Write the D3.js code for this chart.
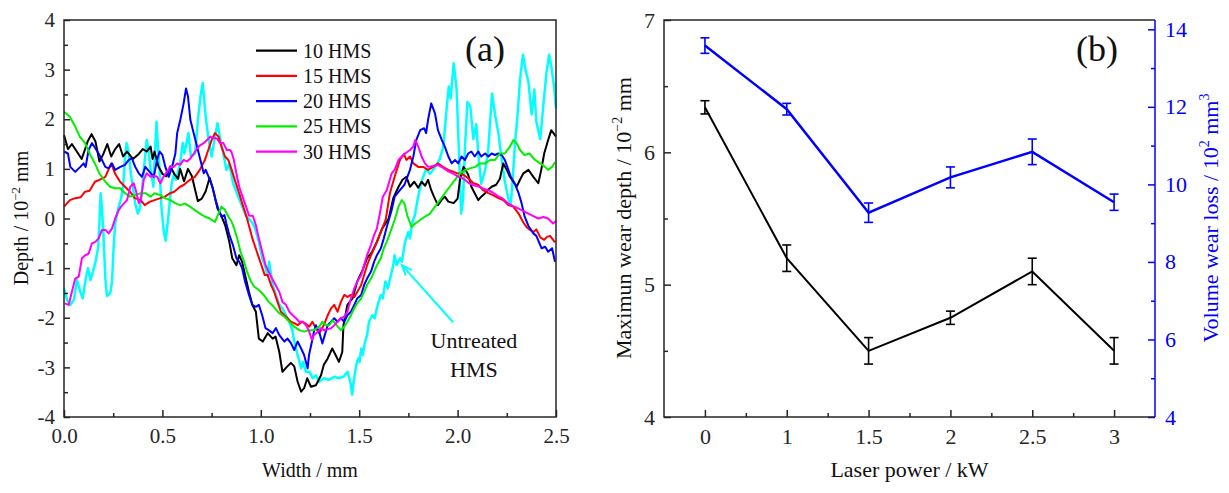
<!DOCTYPE html>
<html><head><meta charset="utf-8">
<script src="https://cdn.jsdelivr.net/npm/d3@7"></script>
<style>
body{margin:0;background:#fff;}
svg text{font-family:"Liberation Serif","Times New Roman",serif;}
</style></head><body>
<svg id="c" width="1229" height="493"></svg>
<script>
// ---------- Panel (a) data : [width mm, depth 10^-2 mm] ----------
const seriesNames = ["10 HMS","15 HMS","20 HMS","25 HMS","30 HMS"];
const seriesColors = ["#000000","#ff0000","#0000ff","#00f000","#ff00ff"];
const untreatedColor = "#00ffff";

const hms10 = [[0,1.68],[0.02,1.40],[0.04,1.50],[0.06,1.38],[0.09,1.20],[0.12,1.55],[0.14,1.70],[0.16,1.55],[0.18,1.15],[0.20,1.30],[0.22,1.50],[0.24,1.25],[0.26,1.40],[0.28,1.50],[0.30,1.25],[0.32,1.35],[0.35,1.20],[0.38,1.30],[0.40,1.40],[0.42,1.35],[0.44,1.45],[0.45,1.20],[0.46,1.35],[0.48,1.05],[0.50,0.90],[0.52,0.85],[0.54,1.05],[0.56,0.90],[0.58,0.80],[0.59,1.00],[0.61,0.75],[0.63,1.00],[0.65,0.85],[0.665,0.60],[0.68,0.35],[0.70,0.40],[0.72,0.55],[0.74,0.82],[0.76,0.55],[0.78,0.20],[0.80,0.05],[0.82,-0.15],[0.84,-0.47],[0.855,-0.80],[0.876,-0.94],[0.89,-0.74],[0.905,-0.87],[0.92,-1.14],[0.94,-1.48],[0.957,-1.74],[0.975,-1.88],[0.99,-2.42],[1.01,-2.48],[1.035,-2.31],[1.06,-2.42],[1.075,-2.38],[1.094,-2.69],[1.11,-3.09],[1.13,-3.00],[1.153,-2.91],[1.17,-2.98],[1.187,-3.29],[1.205,-3.49],[1.22,-3.42],[1.236,-3.22],[1.255,-3.39],[1.28,-3.36],[1.306,-3.16],[1.32,-2.95],[1.34,-2.82],[1.363,-2.62],[1.38,-2.75],[1.397,-2.89],[1.414,-2.69],[1.42,-2.15],[1.44,-1.74],[1.466,-1.61],[1.49,-1.27],[1.517,-1.04],[1.54,-0.80],[1.566,-0.67],[1.59,-0.47],[1.617,-0.20],[1.65,0.00],[1.673,0.41],[1.70,0.64],[1.72,0.78],[1.74,0.84],[1.758,0.64],[1.78,0.74],[1.80,0.62],[1.817,0.74],[1.835,0.66],[1.85,0.78],[1.866,0.57],[1.88,0.44],[1.90,0.27],[1.92,0.38],[1.935,0.44],[1.953,0.34],[1.98,0.31],[2.00,0.40],[2.012,0.78],[2.03,1.04],[2.04,0.98],[2.054,0.88],[2.07,0.64],[2.087,0.51],[2.105,0.37],[2.12,0.44],[2.14,0.51],[2.155,0.58],[2.173,0.64],[2.196,0.68],[2.215,0.80],[2.232,1.11],[2.25,0.98],[2.266,0.84],[2.283,0.74],[2.30,0.64],[2.317,0.78],[2.334,0.91],[2.36,0.98],[2.385,0.84],[2.41,0.71],[2.425,0.98],[2.44,1.31],[2.46,1.58],[2.476,1.78],[2.50,1.65]];

const hms15 = [[0,0.24],[0.03,0.37],[0.057,0.41],[0.085,0.43],[0.107,0.54],[0.13,0.56],[0.157,0.74],[0.18,0.78],[0.21,0.84],[0.24,1.11],[0.26,0.90],[0.285,0.74],[0.31,0.64],[0.335,0.54],[0.36,0.41],[0.39,0.37],[0.41,0.27],[0.437,0.34],[0.46,0.37],[0.49,0.41],[0.513,0.44],[0.54,0.51],[0.56,0.54],[0.59,0.64],[0.61,0.68],[0.64,0.78],[0.665,0.84],[0.69,0.98],[0.716,1.18],[0.733,1.38],[0.75,1.58],[0.767,1.72],[0.785,1.65],[0.80,1.45],[0.818,1.25],[0.835,1.18],[0.852,0.98],[0.87,0.75],[0.89,0.51],[0.91,0.25],[0.93,0.00],[0.957,-0.40],[0.98,-0.67],[1.003,-0.94],[1.02,-1.14],[1.035,-1.14],[1.052,-1.34],[1.068,-1.48],[1.085,-1.68],[1.102,-1.88],[1.12,-1.95],[1.136,-2.01],[1.153,-2.08],[1.17,-2.11],[1.187,-2.15],[1.21,-2.08],[1.228,-2.12],[1.246,-2.18],[1.262,-2.08],[1.28,-2.21],[1.297,-2.31],[1.32,-2.15],[1.34,-1.95],[1.357,-1.81],[1.373,-1.74],[1.39,-1.88],[1.407,-1.68],[1.424,-1.54],[1.44,-1.58],[1.458,-1.54],[1.475,-1.58],[1.49,-1.48],[1.51,-1.34],[1.525,-1.14],[1.54,-0.94],[1.56,-0.74],[1.576,-0.60],[1.59,-0.47],[1.61,-0.27],[1.635,-0.02],[1.656,0.51],[1.68,0.84],[1.707,1.18],[1.727,1.30],[1.74,1.18],[1.758,1.25],[1.775,1.11],[1.80,1.04],[1.825,1.04],[1.85,0.98],[1.876,1.04],[1.90,1.11],[1.925,1.04],[1.953,0.98],[1.98,0.94],[2.00,0.91],[2.03,0.88],[2.054,0.81],[2.08,0.71],[2.105,0.68],[2.13,0.57],[2.156,0.51],[2.18,0.47],[2.207,0.41],[2.232,0.37],[2.258,0.27],[2.283,0.24],[2.31,0.10],[2.334,-0.08],[2.35,-0.17],[2.368,-0.23],[2.385,-0.27],[2.40,-0.22],[2.42,-0.38],[2.44,-0.43],[2.455,-0.37],[2.47,-0.35],[2.495,-0.48]];

const hms20 = [[0,1.35],[0.02,1.31],[0.032,1.04],[0.057,0.94],[0.083,1.04],[0.10,1.11],[0.11,1.04],[0.125,1.38],[0.142,1.52],[0.16,1.41],[0.176,1.31],[0.193,1.18],[0.21,1.04],[0.227,1.01],[0.244,1.11],[0.26,0.98],[0.286,1.04],[0.31,1.08],[0.329,1.18],[0.345,1.21],[0.362,1.04],[0.38,0.91],[0.396,0.84],[0.413,1.04],[0.435,0.94],[0.456,0.84],[0.473,1.18],[0.486,1.35],[0.50,1.28],[0.515,1.04],[0.532,0.84],[0.549,1.04],[0.566,1.31],[0.575,1.72],[0.591,1.99],[0.608,2.32],[0.62,2.62],[0.63,2.46],[0.642,1.99],[0.659,1.72],[0.676,1.45],[0.693,1.18],[0.71,0.91],[0.72,0.98],[0.735,0.84],[0.754,0.64],[0.77,0.37],[0.786,0.17],[0.80,0.04],[0.815,0.07],[0.825,-0.10],[0.84,-0.33],[0.858,-0.53],[0.876,-0.80],[0.89,-0.87],[0.905,-1.00],[0.92,-1.27],[0.94,-1.54],[0.957,-1.74],[0.975,-1.78],[0.99,-1.74],[1.007,-1.95],[1.024,-2.21],[1.04,-2.25],[1.06,-2.31],[1.077,-2.21],[1.094,-2.35],[1.12,-2.48],[1.136,-2.42],[1.153,-2.51],[1.17,-2.65],[1.187,-2.48],[1.205,-2.62],[1.22,-2.75],[1.238,-3.02],[1.245,-2.75],[1.26,-2.48],[1.27,-2.28],[1.28,-2.15],[1.296,-2.28],[1.313,-2.52],[1.325,-2.35],[1.34,-2.15],[1.357,-2.08],[1.373,-2.01],[1.39,-2.08],[1.407,-2.01],[1.424,-2.08],[1.44,-1.95],[1.458,-1.88],[1.475,-1.74],[1.49,-1.61],[1.51,-1.54],[1.525,-1.34],[1.54,-1.21],[1.56,-1.07],[1.576,-0.87],[1.59,-0.74],[1.61,-0.60],[1.625,-0.40],[1.64,-0.17],[1.665,0.17],[1.68,0.44],[1.707,0.57],[1.73,0.68],[1.758,0.98],[1.775,1.25],[1.79,1.58],[1.81,1.78],[1.83,1.82],[1.84,1.72],[1.85,1.99],[1.866,2.32],[1.885,2.12],[1.90,1.78],[1.92,1.58],[1.935,1.45],[1.953,1.25],[1.97,1.11],[1.987,1.18],[2.003,1.11],[2.02,1.25],[2.037,1.18],[2.054,1.31],[2.07,1.35],[2.087,1.25],[2.105,1.35],[2.12,1.25],[2.14,1.31],[2.156,1.25],[2.173,1.31],[2.19,1.28],[2.207,1.31],[2.224,1.28],[2.24,1.18],[2.258,0.98],[2.27,0.84],[2.29,0.71],[2.31,0.51],[2.325,0.31],[2.34,0.05],[2.36,-0.15],[2.385,-0.30],[2.40,-0.35],[2.427,-0.60],[2.445,-0.57],[2.46,-0.67],[2.48,-0.60],[2.495,-0.87]];

const hms25 = [[0,2.15],[0.03,2.05],[0.057,1.85],[0.08,1.65],[0.107,1.52],[0.13,1.31],[0.157,1.11],[0.18,0.91],[0.21,0.74],[0.234,0.64],[0.26,0.61],[0.285,0.61],[0.31,0.51],[0.335,0.44],[0.36,0.47],[0.39,0.51],[0.415,0.51],[0.44,0.44],[0.46,0.51],[0.49,0.47],[0.513,0.41],[0.54,0.37],[0.564,0.31],[0.59,0.27],[0.615,0.30],[0.64,0.24],[0.665,0.17],[0.69,0.10],[0.715,0.04],[0.74,0.00],[0.767,-0.07],[0.785,0.10],[0.80,0.24],[0.818,0.17],[0.835,0.04],[0.85,-0.05],[0.865,-0.20],[0.88,-0.40],[0.897,-0.67],[0.915,-0.87],[0.93,-1.07],[0.95,-1.27],[0.966,-1.37],[0.99,-1.44],[1.015,-1.54],[1.04,-1.68],[1.066,-1.78],[1.094,-1.91],[1.12,-1.98],[1.145,-2.08],[1.17,-2.18],[1.195,-2.25],[1.22,-2.28],[1.245,-2.25],[1.27,-2.25],[1.297,-2.18],[1.313,-2.08],[1.33,-2.15],[1.348,-2.15],[1.365,-2.05],[1.385,-2.15],[1.407,-2.25],[1.424,-2.18],[1.44,-2.08],[1.458,-1.95],[1.475,-1.81],[1.49,-1.71],[1.51,-1.61],[1.525,-1.48],[1.54,-1.34],[1.56,-1.21],[1.576,-1.07],[1.59,-0.94],[1.61,-0.80],[1.625,-0.60],[1.64,-0.47],[1.656,-0.30],[1.68,-0.03],[1.70,0.24],[1.716,0.37],[1.73,0.30],[1.745,0.05],[1.766,-0.17],[1.785,-0.10],[1.81,-0.03],[1.834,0.04],[1.86,0.10],[1.885,0.24],[1.91,0.37],[1.936,0.51],[1.96,0.64],[1.987,0.78],[2.012,0.91],[2.04,0.98],[2.063,1.01],[2.09,1.04],[2.114,1.11],[2.14,1.11],[2.165,1.18],[2.19,1.18],[2.215,1.31],[2.24,1.31],[2.266,1.45],[2.283,1.58],[2.30,1.52],[2.317,1.38],[2.34,1.28],[2.365,1.31],[2.393,1.18],[2.42,1.11],[2.444,1.04],[2.46,0.98],[2.48,1.04],[2.495,1.14]];

const hms30 = [[0.003,-1.71],[0.024,-1.74],[0.04,-1.48],[0.057,-1.21],[0.075,-1.17],[0.091,-0.80],[0.108,-0.74],[0.125,-0.71],[0.142,-0.50],[0.16,-0.47],[0.176,-0.40],[0.193,-0.23],[0.21,-0.23],[0.227,-0.30],[0.244,-0.20],[0.26,0.00],[0.278,0.17],[0.29,0.24],[0.32,0.37],[0.337,0.64],[0.354,0.71],[0.365,0.57],[0.38,0.31],[0.39,0.37],[0.405,0.78],[0.42,0.91],[0.44,0.84],[0.456,0.86],[0.473,0.84],[0.49,0.71],[0.505,0.84],[0.523,0.94],[0.54,1.04],[0.558,1.04],[0.575,1.11],[0.59,1.08],[0.608,1.18],[0.625,1.15],[0.642,1.21],[0.66,1.31],[0.676,1.41],[0.693,1.48],[0.71,1.52],[0.727,1.58],[0.743,1.65],[0.76,1.62],[0.777,1.61],[0.793,1.52],[0.81,1.52],[0.827,1.38],[0.843,1.38],[0.85,1.35],[0.862,1.20],[0.874,0.95],[0.89,0.64],[0.907,0.44],[0.925,0.24],[0.94,0.06],[0.96,0.05],[0.975,-0.13],[0.99,-0.40],[1.007,-0.67],[1.024,-0.94],[1.04,-1.07],[1.057,-1.21],[1.075,-1.34],[1.094,-1.48],[1.11,-1.68],[1.128,-1.74],[1.145,-1.88],[1.162,-1.95],[1.179,-2.01],[1.195,-2.08],[1.212,-2.08],[1.23,-2.15],[1.246,-2.28],[1.26,-2.45],[1.27,-2.35],[1.29,-2.28],[1.305,-2.21],[1.32,-2.25],[1.34,-2.23],[1.357,-2.21],[1.373,-2.15],[1.39,-2.08],[1.407,-2.01],[1.424,-1.98],[1.44,-1.88],[1.458,-1.61],[1.475,-1.41],[1.49,-1.27],[1.51,-1.14],[1.525,-0.94],[1.54,-0.74],[1.56,-0.53],[1.576,-0.33],[1.59,-0.20],[1.605,0.10],[1.62,0.44],[1.64,0.57],[1.665,0.91],[1.68,0.98],[1.70,1.18],[1.716,1.25],[1.733,1.31],[1.758,1.38],[1.775,1.45],[1.785,1.58],[1.80,1.45],[1.817,1.25],[1.834,1.11],[1.85,1.04],[1.877,1.06],[1.90,1.08],[1.927,1.02],[1.953,0.95],[1.98,0.90],[2.005,0.84],[2.03,0.80],[2.055,0.72],[2.08,0.67],[2.105,0.65],[2.13,0.60],[2.156,0.57],[2.18,0.52],[2.205,0.45],[2.23,0.40],[2.258,0.30],[2.283,0.25],[2.31,0.20],[2.335,0.15],[2.36,0.10],[2.385,0.05],[2.41,0.00],[2.436,0.03],[2.46,0.00],[2.485,-0.10],[2.50,-0.05]];

const untreated = [[0.000,-1.41],[0.015,-1.64],[0.032,-1.74],[0.050,-1.64],[0.066,-1.24],[0.083,-1.48],[0.095,-1.61],[0.108,-1.27],[0.122,-1.00],[0.134,-1.24],[0.147,-1.07],[0.160,-0.87],[0.173,-0.60],[0.180,-0.10],[0.186,0.51],[0.193,0.20],[0.200,-0.30],[0.210,-1.20],[0.218,-1.56],[0.235,-1.51],[0.244,-1.27],[0.252,-0.60],[0.260,-0.10],[0.275,0.20],[0.290,0.40],[0.300,0.64],[0.310,1.20],[0.318,1.52],[0.328,1.35],[0.340,0.90],[0.350,0.64],[0.362,0.30],[0.375,0.10],[0.385,0.20],[0.395,0.50],[0.405,0.95],[0.420,1.58],[0.430,1.38],[0.440,1.00],[0.454,0.64],[0.462,1.30],[0.470,1.95],[0.478,1.40],[0.485,1.04],[0.495,0.24],[0.508,-0.30],[0.517,-0.45],[0.530,0.04],[0.547,0.71],[0.560,0.91],[0.570,0.78],[0.590,1.11],[0.603,1.52],[0.612,1.31],[0.632,1.72],[0.645,1.25],[0.666,1.31],[0.682,2.05],[0.695,2.50],[0.705,2.73],[0.720,2.05],[0.735,1.58],[0.750,1.25],[0.767,1.65],[0.780,1.92],[0.795,1.58],[0.810,1.31],[0.825,0.98],[0.840,1.10],[0.860,0.70],[0.875,0.55],[0.894,0.35],[0.910,0.20],[0.925,0.05],[0.945,-0.03],[0.960,-0.10],[0.975,-0.25],[0.990,-0.47],[1.007,-0.80],[1.020,-0.94],[1.035,-1.17],[1.042,-0.87],[1.050,-1.07],[1.060,-1.34],[1.077,-1.54],[1.094,-1.74],[1.110,-1.81],[1.128,-1.95],[1.145,-2.08],[1.162,-2.28],[1.170,-2.48],[1.187,-2.75],[1.205,-3.02],[1.215,-2.89],[1.230,-3.09],[1.248,-3.09],[1.264,-3.22],[1.280,-3.16],[1.297,-3.29],[1.320,-3.22],[1.345,-3.25],[1.373,-3.19],[1.395,-3.22],[1.420,-3.19],[1.440,-3.09],[1.455,-3.29],[1.464,-3.55],[1.472,-3.29],[1.485,-2.95],[1.495,-2.82],[1.502,-2.89],[1.510,-2.62],[1.518,-2.75],[1.530,-2.48],[1.540,-2.35],[1.550,-2.08],[1.566,-1.95],[1.578,-2.01],[1.594,-1.74],[1.610,-1.54],[1.620,-1.61],[1.633,-1.27],[1.645,-1.41],[1.657,-1.21],[1.673,-0.94],[1.680,-0.74],[1.690,-0.94],[1.707,-0.80],[1.717,-0.87],[1.733,-0.47],[1.750,-0.27],[1.758,-0.40],[1.770,-0.07],[1.783,0.07],[1.800,0.45],[1.817,0.75],[1.840,1.00],[1.860,0.90],[1.894,1.08],[1.910,1.20],[1.927,1.45],[1.944,2.20],[1.955,2.66],[1.965,2.42],[1.980,3.13],[1.995,2.60],[2.008,1.20],[2.018,0.10],[2.028,0.40],[2.037,1.40],[2.050,2.35],[2.065,2.25],[2.080,1.60],[2.095,1.90],[2.105,1.30],[2.120,0.70],[2.140,0.98],[2.156,1.40],[2.175,2.52],[2.190,2.10],[2.207,1.72],[2.224,1.20],[2.240,0.75],[2.258,0.40],[2.270,0.28],[2.280,0.80],[2.292,1.55],[2.305,2.10],[2.317,2.80],[2.332,3.30],[2.345,3.00],[2.360,2.75],[2.376,2.10],[2.390,2.60],[2.400,1.95],[2.420,1.60],[2.436,2.30],[2.452,2.95],[2.465,3.30],[2.477,3.05],[2.490,2.66],[2.500,2.22]];

const aXTicks = [0,0.5,1,1.5,2,2.5];
const aXTickLabels = ["0.0","0.5","1.0","1.5","2.0","2.5"];
const aXMinor = [0.25,0.75,1.25,1.75,2.25];
const aYTicks = [-4,-3,-2,-1,0,1,2,3,4];
const aYTickLabels = ["-4","-3","-2","-1","0","1","2","3","4"];
const aYMinor = [-3.5,-2.5,-1.5,-0.5,0.5,1.5,2.5,3.5];
const annotationLines = ["Untreated","HMS"];
const annotationText = [2.083,-2.61];   // data units (width, depth)
const arrowFrom = [1.977,-2.09];
const arrowTo = [1.717,-0.94];

// ---------- Panel (b) data ----------
const powerLabels = ["0","1","1.5","2","2.5","3"];
const depthMean = [6.34,5.20,4.50,4.75,5.10,4.50];
const depthErr  = [0.05,0.10,0.10,0.05,0.10,0.10];
const volumeMean = [13.58,11.94,9.27,10.18,10.84,9.54];
const volumeErr  = [0.20,0.15,0.25,0.27,0.33,0.21];
const bLeftTicks = [4,5,6,7];
const bLeftMinor = [4.5,5.5,6.5];
const bRightTicks = [4,6,8,10,12,14];
const bRightMinor = [5,7,9,11,13];

// ---------- drawing ----------
const svg = d3.select("#c");
const FONT = '"Liberation Serif","Times New Roman",serif';
const AX = "#262626";
const A = {l:64, r:556, t:20, b:417};
const B = {l:664, r:1155, t:20, b:417};

function styleAxis(g, color, fs){
  g.select(".domain").remove();
  g.selectAll("line").attr("stroke", color).attr("stroke-width", 1.5);
  g.selectAll("text").attr("fill", color).attr("font-size", fs).attr("font-family", FONT);
}

// ===== Panel (a) =====
const xA = d3.scaleLinear().domain([0,2.5]).range([A.l, A.r]);
const yA = d3.scaleLinear().domain([-4,4]).range([A.b, A.t]);

const lineA = d3.line().x(d=>xA(d[0])).y(d=>yA(d[1]));
const curves = [hms10, hms15, hms20, hms25, hms30];

svg.append("path").datum(untreated).attr("d", lineA)
  .attr("fill","none").attr("stroke",untreatedColor).attr("stroke-width",2.5).attr("stroke-linejoin","round");
curves.forEach((c,i)=>{
  svg.append("path").datum(c).attr("d", lineA)
    .attr("fill","none").attr("stroke",seriesColors[i]).attr("stroke-width",2).attr("stroke-linejoin","round");
});

svg.append("g").attr("transform",`translate(0,${A.b})`)
  .call(d3.axisBottom(xA).tickValues(aXTicks).tickFormat((d,i)=>aXTickLabels[i]).tickSize(-7).tickPadding(11))
  .call(g=>styleAxis(g,AX,21));
svg.append("g").attr("transform",`translate(0,${A.b})`)
  .call(d3.axisBottom(xA).tickValues(aXMinor).tickFormat("").tickSize(-4))
  .call(g=>styleAxis(g,AX,21));
svg.append("g").attr("transform",`translate(${A.l},0)`)
  .call(d3.axisLeft(yA).tickValues(aYTicks).tickFormat((d,i)=>aYTickLabels[i]).tickSize(-6).tickPadding(9))
  .call(g=>styleAxis(g,AX,21));
svg.append("g").attr("transform",`translate(${A.l},0)`)
  .call(d3.axisLeft(yA).tickValues(aYMinor).tickFormat("").tickSize(-4))
  .call(g=>styleAxis(g,AX,21));
svg.append("rect").attr("x",A.l).attr("y",A.t).attr("width",A.r-A.l).attr("height",A.b-A.t)
  .attr("fill","none").attr("stroke",AX).attr("stroke-width",1.5);

// legend
const leg = svg.append("g");
seriesNames.forEach((n,i)=>{
  const y = 50.7 + i*25.25;
  leg.append("line").attr("x1",256).attr("x2",297).attr("y1",y).attr("y2",y)
    .attr("stroke",seriesColors[i]).attr("stroke-width",2.2);
  leg.append("text").attr("x",303).attr("y",y+7).attr("font-size",20).attr("fill","#111").text(n);
});

svg.append("text").attr("x",485).attr("y",61).attr("text-anchor","middle")
  .attr("font-size",36).attr("fill","#111").text("(a)");

// annotation
const ax0 = xA(arrowFrom[0]), ay0 = yA(arrowFrom[1]), ax1 = xA(arrowTo[0]), ay1 = yA(arrowTo[1]);
svg.append("line").attr("x1",ax0).attr("y1",ay0).attr("x2",ax1).attr("y2",ay1)
  .attr("stroke",untreatedColor).attr("stroke-width",2);
{
  const ang = Math.atan2(ay1-ay0, ax1-ax0), L = 11, w = 0.38;
  const p1 = [ax1 - L*Math.cos(ang-w), ay1 - L*Math.sin(ang-w)];
  const p2 = [ax1 - L*Math.cos(ang+w), ay1 - L*Math.sin(ang+w)];
  svg.append("path").attr("d",`M${p1[0]},${p1[1]}L${ax1},${ay1}L${p2[0]},${p2[1]}`)
    .attr("fill","none").attr("stroke",untreatedColor).attr("stroke-width",2);
}
annotationLines.forEach((t,i)=>{
  svg.append("text").attr("x",xA(annotationText[0])).attr("y",yA(annotationText[1])+i*29)
    .attr("text-anchor","middle").attr("font-size",22).attr("fill","#111").text(t);
});

// axis titles (a)
svg.append("text").attr("x",(A.l+A.r)/2).attr("y",477).attr("text-anchor","middle")
  .attr("font-size",20).attr("fill","#111").text("Width / mm");
{
  const t = svg.append("text").attr("transform",`translate(28,218) rotate(-90)`)
    .attr("text-anchor","middle").attr("font-size",20).attr("fill","#111");
  t.append("tspan").text("Depth / 10");
  t.append("tspan").attr("dy",-8).attr("font-size",13).text("\u22122");
  t.append("tspan").attr("dy",8).text(" mm");
}

// ===== Panel (b) =====
const xB = d3.scaleLinear().domain([-0.5,5.5]).range([B.l,B.r]);
const yBL = d3.scaleLinear().domain([4,7]).range([B.b,B.t]);
const yBR = d3.scaleLinear().domain([4,14.24]).range([B.b,B.t]);
const idx = powerLabels.map((d,i)=>i);

// lines
const lineBL = d3.line().x((d,i)=>xB(i)).y(d=>yBL(d));
const lineBR = d3.line().x((d,i)=>xB(i)).y(d=>yBR(d));
svg.append("path").datum(depthMean).attr("d",lineBL).attr("fill","none").attr("stroke","#000").attr("stroke-width",2);
svg.append("path").datum(volumeMean).attr("d",lineBR).attr("fill","none").attr("stroke","#0000ff").attr("stroke-width",2.5);

function errBars(mean, err, ys, color){
  const g = svg.append("g").attr("stroke",color).attr("stroke-width",1.6);
  mean.forEach((m,i)=>{
    const x = xB(i), y1 = ys(m-err[i]), y2 = ys(m+err[i]);
    g.append("line").attr("x1",x).attr("x2",x).attr("y1",y1).attr("y2",y2);
    g.append("line").attr("x1",x-4.5).attr("x2",x+4.5).attr("y1",y1).attr("y2",y1);
    g.append("line").attr("x1",x-4.5).attr("x2",x+4.5).attr("y1",y2).attr("y2",y2);
  });
}
errBars(depthMean, depthErr, yBL, "#000");
errBars(volumeMean, volumeErr, yBR, "#0000ff");

svg.append("g").attr("transform",`translate(0,${B.b})`)
  .call(d3.axisBottom(xB).tickValues(idx).tickFormat((d,i)=>powerLabels[i]).tickSize(-7).tickPadding(11))
  .call(g=>styleAxis(g,AX,22));
svg.append("g").attr("transform",`translate(0,${B.b})`)
  .call(d3.axisBottom(xB).tickValues(idx.slice(0,-1).map(i=>i+0.5)).tickFormat("").tickSize(-4))
  .call(g=>styleAxis(g,AX,22));
svg.append("g").attr("transform",`translate(${B.l},0)`)
  .call(d3.axisLeft(yBL).tickValues(bLeftTicks).tickFormat(d3.format("d")).tickSize(-7).tickPadding(9))
  .call(g=>styleAxis(g,AX,22));
svg.append("g").attr("transform",`translate(${B.l},0)`)
  .call(d3.axisLeft(yBL).tickValues(bLeftMinor).tickFormat("").tickSize(-4))
  .call(g=>styleAxis(g,AX,22));
svg.append("g").attr("transform",`translate(${B.r},0)`)
  .call(d3.axisRight(yBR).tickValues(bRightTicks).tickFormat(d3.format("d")).tickSize(-7).tickPadding(10))
  .call(g=>styleAxis(g,"#0000ff",22));
svg.append("g").attr("transform",`translate(${B.r},0)`)
  .call(d3.axisRight(yBR).tickValues(bRightMinor).tickFormat("").tickSize(-4))
  .call(g=>styleAxis(g,"#0000ff",22));

// frame (b)
svg.append("path").attr("d",`M${B.r},${B.t}H${B.l}V${B.b}H${B.r}`)
  .attr("fill","none").attr("stroke",AX).attr("stroke-width",1.5);
svg.append("line").attr("x1",B.r).attr("x2",B.r).attr("y1",B.t).attr("y2",B.b)
  .attr("stroke","#0000ff").attr("stroke-width",1.5);

svg.append("text").attr("x",1097).attr("y",61).attr("text-anchor","middle")
  .attr("font-size",36).attr("fill","#111").text("(b)");

svg.append("text").attr("x",(B.l+B.r)/2).attr("y",477).attr("text-anchor","middle")
  .attr("font-size",22).attr("fill","#111").text("Laser power / kW");
{
  const t = svg.append("text").attr("transform",`translate(631,218) rotate(-90)`)
    .attr("text-anchor","middle").attr("font-size",22).attr("fill","#111");
  t.append("tspan").text("Maximun wear depth / 10");
  t.append("tspan").attr("dy",-9).attr("font-size",14).text("\u22122");
  t.append("tspan").attr("dy",9).text(" mm");
}
{
  const t = svg.append("text").attr("transform",`translate(1218,218) rotate(-90)`)
    .attr("text-anchor","middle").attr("font-size",22).attr("fill","#0000ff");
  t.append("tspan").text("Volume wear loss / 10");
  t.append("tspan").attr("dy",-9).attr("font-size",14).text("2");
  t.append("tspan").attr("dy",9).text(" mm");
  t.append("tspan").attr("dy",-9).attr("font-size",14).text("3");
}
</script>
</body></html>
